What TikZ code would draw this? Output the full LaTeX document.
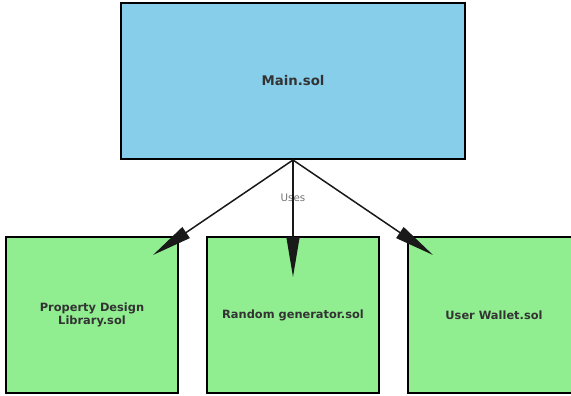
\documentclass[tikz,border=0pt]{standalone}
\usepackage{fontspec}
\setsansfont{DejaVu Sans}
\usetikzlibrary{arrows.meta}
\definecolor{mainblue}{HTML}{87CEEB}
\definecolor{libgreen}{HTML}{90EE90}
\definecolor{txtgray}{HTML}{333333}
\tikzset{
  solbox/.style={draw=black, line width=2pt, inner sep=0pt, align=center,
    text=txtgray, font=\sffamily\bfseries\fontsize{11.4}{12.5}\selectfont,
    minimum width=172pt, minimum height=156pt, fill=libgreen},
  useedge/.style={draw=black!90, line width=1.5pt,
    -{Triangle[length=40pt,width=13pt]}}
}
\begin{document}
\begin{tikzpicture}[x=1pt,y=-1pt]
    \useasboundingbox (0,0) rectangle (571,396);
    \node[solbox, fill=mainblue, minimum width=344pt,
      font=\sffamily\bfseries\fontsize{13.3}{15}\selectfont] (main) at (293,81) {Main.sol};
    \node[solbox] (lib) at (92,315) {Property Design\\Library.sol};
    \node[solbox] (rand) at (293,315) {Random generator.sol};
    \node[solbox] (wallet) at (494,315) {User Wallet.sol};
%    label sits under the middle edge
    \node[font=\sffamily\fontsize{10.3}{11}\selectfont, text=black!55,
      inner sep=0pt] (uses) at (293,198) {Uses};
%    arrow tips reach into the boxes
    \coordinate (tiplib) at (153,255);
    \coordinate (tiprand) at (293,277);
    \coordinate (tipwallet) at (433,255);
    \draw[useedge] (main.south) -- (tiplib);
    \draw[useedge] (main.south) -- (tiprand);
    \draw[useedge] (main.south) -- (tipwallet);
\end{tikzpicture}
\end{document}
